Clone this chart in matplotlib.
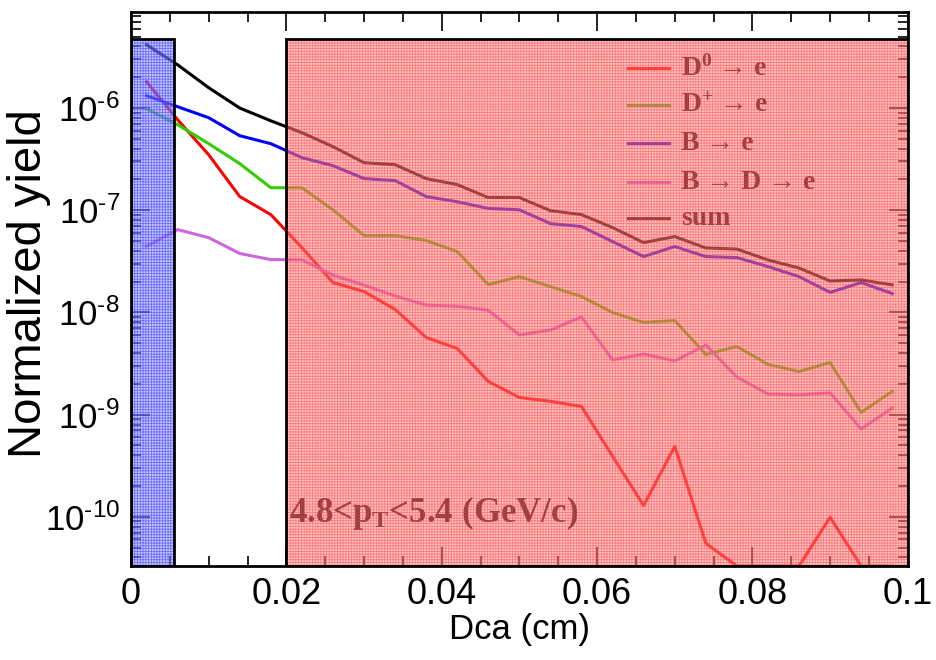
import numpy as np
import matplotlib
matplotlib.use('Agg')
import matplotlib.pyplot as plt
from matplotlib.patches import Rectangle
from matplotlib.ticker import MultipleLocator, LogLocator, NullFormatter, FuncFormatter

# bin centres (cm)
dca = [0.002 + 0.004 * k for k in range(25)]

d0_e = [1.81e-6, 7.69e-7, 3.49e-7, 1.36e-7, 9.06e-8, 4.31e-8, 1.96e-8, 1.60e-8, 1.07e-8,
        5.69e-9, 4.44e-9, 2.11e-9, 1.47e-9, 1.35e-9, 1.20e-9, 3.90e-10, 1.29e-10, 4.89e-10,
        5.51e-11, 0, 0, 0, 9.9e-11, 0, 0]
dplus_e = [9.84e-7, 6.87e-7, 4.48e-7, 2.86e-7, 1.66e-7, 1.66e-7, 1.01e-7, 5.65e-8, 5.65e-8,
           5.05e-8, 3.94e-8, 1.87e-8, 2.24e-8, 1.79e-8, 1.43e-8, 9.97e-9, 7.96e-9, 8.33e-9,
           3.88e-9, 4.64e-9, 3.10e-9, 2.64e-9, 3.24e-9, 1.05e-9, 1.69e-9]
b_e = [1.32e-6, 1.03e-6, 8.04e-7, 5.36e-7, 4.48e-7, 3.27e-7, 2.73e-7, 2.04e-7, 1.95e-7,
       1.36e-7, 1.21e-7, 1.04e-7, 1.01e-7, 7.40e-8, 6.92e-8, 4.93e-8, 3.52e-8, 4.41e-8,
       3.52e-8, 3.44e-8, 2.81e-8, 2.24e-8, 1.57e-8, 1.96e-8, 1.53e-8]
bd_e = [4.44e-8, 6.46e-8, 5.39e-8, 3.77e-8, 3.29e-8, 3.27e-8, 2.32e-8, 1.85e-8, 1.45e-8,
        1.18e-8, 1.15e-8, 1.05e-8, 6.01e-9, 6.73e-9, 9.02e-9, 3.43e-9, 3.92e-9, 3.35e-9,
        4.80e-9, 2.33e-9, 1.59e-9, 1.56e-9, 1.63e-9, 7.24e-10, 1.16e-9]
sum_e = [4.16e-6, 2.65e-6, 1.58e-6, 1.00e-6, 7.50e-7, 5.74e-7, 4.19e-7, 2.92e-7, 2.79e-7,
         2.04e-7, 1.78e-7, 1.33e-7, 1.33e-7, 9.90e-8, 9.06e-8, 6.76e-8, 4.82e-8, 5.52e-8,
         4.27e-8, 4.17e-8, 3.26e-8, 2.72e-8, 2.03e-8, 2.08e-8, 1.86e-8]

ymin, ymax = 3.3e-11, 8.7e-6
box_top = 4.7e-6

series = [
    (d0_e, '#ff0000', r'D$^{\mathbf{0}}$ → e'),
    (dplus_e, '#33cc00', r'D$^{\mathbf{+}}$ → e'),
    (b_e, '#0000ff', 'B → e'),
    (bd_e, '#cc66dd', 'B → D → e'),
    (sum_e, '#000000', 'sum'),
]

plt.rcParams['mathtext.fontset'] = 'custom'
plt.rcParams['mathtext.rm'] = 'Liberation Sans'
plt.rcParams['mathtext.bf'] = 'Liberation Serif:bold'
plt.rcParams['mathtext.it'] = 'Liberation Serif:bold'
plt.rcParams['hatch.linewidth'] = 0.6

fig = plt.figure(figsize=(9.37, 6.6), dpi=100)
ax = fig.add_axes([0.1398, 0.1424, 0.829, 0.8394])

for vals, col, lab in series:
    y = np.clip(np.array(vals, dtype=float), ymin, None)
    ax.plot(dca, y, color=col, lw=2.2, zorder=3)

# legend drawn by hand (ROOT style)
ly = [0.899, 0.832, 0.763, 0.693, 0.628]
for (vals, col, lab), yy in zip(series, ly):
    ax.plot([0.640, 0.693], [yy, yy], color=col, lw=2.2, transform=ax.transAxes, zorder=3)
    ax.text(0.708, yy, lab, transform=ax.transAxes, fontsize=20, va='center',
            family=['Liberation Serif', 'DejaVu Serif'], weight='bold', zorder=3)

ax.text(0.0203, 1.1e-10, r'$\mathbf{4.8}$<$\mathbf{p_T}$<$\mathbf{5.4\ (GeV/c)}$',
        fontsize=25, family='Liberation Serif', weight='bold', va='center', zorder=3)

# shaded regions drawn over everything
for x0, x1, fc, hc in [(0, 0.0055, (0.6, 0.6, 1.0, 0.55), (0.2, 0.2, 1.0, 0.6)),
                       (0.02, 0.1, (1.0, 0.55, 0.55, 0.5), (1.0, 0.2, 0.2, 0.5))]:
    ax.add_patch(Rectangle((x0, ymin), x1 - x0, box_top - ymin, facecolor=fc,
                           edgecolor='none', lw=0, zorder=5))
    ax.add_patch(Rectangle((x0, ymin), x1 - x0, box_top - ymin, facecolor='none',
                           edgecolor=hc, hatch='++++++', lw=0, zorder=5))
    ax.add_patch(Rectangle((x0, ymin), x1 - x0, box_top - ymin, facecolor='none',
                           edgecolor='black', lw=2, zorder=6))


def ylab(v, pos):
    e = int(round(np.log10(v)))
    return r'$\mathregular{10^{\text{-}%d}}$' % abs(e)


ax.set_yscale('log')
ax.set_xlim(0, 0.1)
ax.set_ylim(ymin, ymax)
ax.xaxis.set_minor_locator(MultipleLocator(0.005))
ax.yaxis.set_major_locator(LogLocator(base=10, numticks=20))
ax.yaxis.set_major_formatter(FuncFormatter(ylab))
ax.yaxis.set_minor_locator(LogLocator(base=10, subs=np.arange(2, 10), numticks=20))
ax.yaxis.set_minor_formatter(NullFormatter())
ax.set_xticks([0, 0.02, 0.04, 0.06, 0.08, 0.1])
ax.set_xticklabels(['0', '0.02', '0.04', '0.06', '0.08', '0.1'])
ax.tick_params(which='both', direction='in', top=True, right=True, labelsize=26, width=1.2)
ax.tick_params(axis='y', labelsize=25)
ax.tick_params(which='major', length=14, pad=8)
ax.tick_params(which='minor', length=7)
for lbl in ax.get_xticklabels() + ax.get_yticklabels():
    lbl.set_family('Liberation Sans')
for s in ax.spines.values():
    s.set_linewidth(2)
    s.set_zorder(7)

ax.set_xlabel('Dca (cm)', fontsize=25, family='Liberation Sans')
ax.xaxis.set_label_coords(0.5, -0.085)
ax.set_ylabel('Normalized yield', fontsize=34, family='Liberation Sans')
ax.yaxis.set_label_coords(-0.103, 0.51)

fig.savefig('out.png', dpi=100)
